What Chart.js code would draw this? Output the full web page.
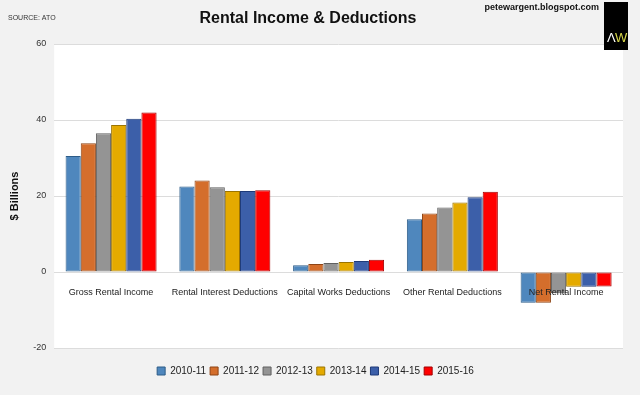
<!DOCTYPE html>
<html>
<head>
<meta charset="utf-8">
<script src="https://cdn.jsdelivr.net/npm/chart.js@4"></script>
<style>
  html, body { margin: 0; padding: 0; background: #f2f2f2; }
  #wrap { width: 640px; height: 395px; position: relative; }
</style>
</head>
<body>
<div id="wrap"><canvas id="rentalChart"></canvas></div>
<script>
// Categories and series (in $ billions)
const categories = ['Gross Rental Income', 'Rental Interest Deductions', 'Capital Works Deductions', 'Other Rental Deductions', 'Net Rental Income'];
const years = ['2010-11', '2011-12', '2012-13', '2013-14', '2014-15', '2015-16'];
const fy2011 = [30.5, 22.5, 1.8, 13.9, -8.1];
const fy2012 = [33.9, 24.1, 2.1, 15.4, -8.1];
const fy2013 = [36.5, 22.3, 2.4, 17.0, -5.6];
const fy2014 = [38.7, 21.3, 2.6, 18.3, -3.9];
const fy2015 = [40.3, 21.3, 2.9, 19.7, -3.9];
const fy2016 = [42.0, 21.5, 3.2, 21.1, -3.8];
const yTicks = [60, 40, 20, 0, -20];

const fills = ['#4f87bd', '#d46e2c', '#949494', '#e4aa00', '#3c5fa9', '#ff0000'];
const edges = ['#2d5c88', '#8e4415', '#606060', '#9b7400', '#1e3a78', '#a30000'];
const series = [fy2011, fy2012, fy2013, fy2014, fy2015, fy2016];

const FONT = "'Liberation Sans', Arial, sans-serif";

// white plot area on a grey page, plus the header texts and the AW badge
const decorations = {
    id: 'decorations',
    beforeDraw(chart) {
        const { ctx, chartArea: a } = chart;
        ctx.save();
        ctx.fillStyle = '#f2f2f2';
        ctx.fillRect(0, 0, chart.width, chart.height);
        ctx.fillStyle = '#ffffff';
        ctx.fillRect(a.left, a.top, a.right - a.left, a.bottom - a.top);
        ctx.restore();
    },
    afterDraw(chart) {
        const ctx = chart.ctx;
        ctx.save();
        ctx.textBaseline = 'middle';
        ctx.fillStyle = '#111';
        ctx.textAlign = 'center';
        ctx.font = "bold 16px " + FONT;
        ctx.fillText('Rental Income & Deductions', 308, 19);
        ctx.textAlign = 'left';
        ctx.font = "7px " + FONT;
        ctx.fillStyle = '#333';
        ctx.fillText('SOURCE: ATO', 8, 18);
        ctx.textAlign = 'right';
        ctx.font = "bold 9px " + FONT;
        ctx.fillStyle = '#111';
        ctx.fillText('petewargent.blogspot.com', 599, 8);
        // badge
        ctx.fillStyle = '#000';
        ctx.fillRect(604, 2, 24, 48);
        ctx.textAlign = 'left';
        ctx.font = "13px " + FONT;
        ctx.fillStyle = '#ffffff';
        ctx.fillText('\u039B', 607, 38);
        ctx.fillStyle = '#d8d84a';
        ctx.fillText('W', 615, 38);
        ctx.restore();
    }
};

const datasets = years.map((y, i) => ({
    label: y,
    data: series[i],
    backgroundColor: fills[i],
    borderColor: edges[i],
    borderWidth: 1,
    borderSkipped: false,
    categoryPercentage: 0.8,
    barPercentage: 1.0
}));

new Chart(document.getElementById('rentalChart').getContext('2d'), {
    type: 'bar',
    data: { labels: categories, datasets: datasets },
    options: {
        responsive: true,
        maintainAspectRatio: false,
        animation: false,
        layout: { padding: { top: 44, right: 17, bottom: 9, left: 8 } },
        plugins: {
            legend: {
                position: 'bottom',
                // empty title only used as a spacer above the items
                title: { display: true, text: ' ', padding: 1, font: { family: FONT, size: 10 } },
                labels: {
                    boxWidth: 8,
                    boxHeight: 8,
                    padding: 4,
                    color: '#222',
                    font: { family: FONT, size: 10 }
                }
            },
            title: { display: false },
            tooltip: { enabled: false }
        },
        scales: {
            x: {
                position: { y: 0 },
                grid: { display: false },
                border: { display: false },
                ticks: {
                    z: 1,
                    color: '#222',
                    padding: 7,
                    maxRotation: 0,
                    autoSkip: false,
                    font: { family: FONT, size: 9 }
                }
            },
            y: {
                min: -20,
                max: 60,
                afterBuildTicks(scale) {
                    scale.ticks = yTicks.map(v => ({ value: v }));
                },
                grid: { color: '#dcdcdc', drawTicks: false },
                border: { display: false },
                ticks: {
                    color: '#333',
                    padding: 8,
                    font: { family: FONT, size: 9 }
                },
                title: {
                    display: true,
                    text: '$ Billions',
                    color: '#111',
                    padding: { top: 0, bottom: 4 },
                    font: { family: FONT, size: 11, weight: 'bold' }
                }
            }
        }
    },
    plugins: [decorations]
});
</script>
</body>
</html>
